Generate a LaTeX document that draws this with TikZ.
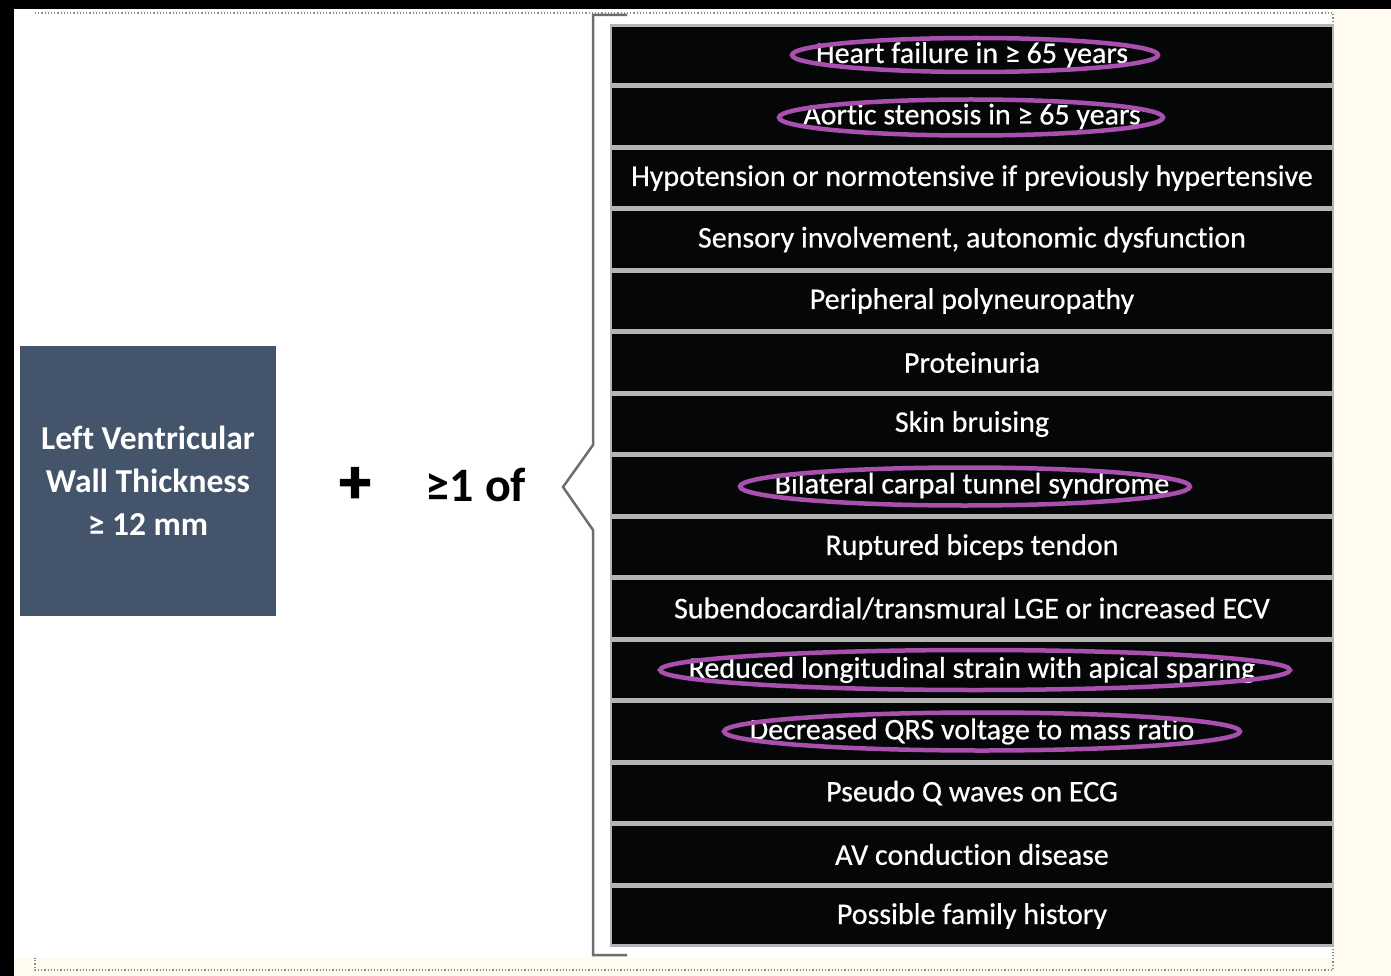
\documentclass[tikz,border=0pt]{standalone}
\usepackage{fontspec}
\setmainfont{Carlito}[Ligatures=NoCommon, BoldFont=Carlito Bold]
\newfontfamily\rowfont{Carlito}[Ligatures=NoCommon, FakeBold=0.5]
\newfontfamily\heavyfont{Carlito Bold}[Ligatures=NoCommon]
\newfontfamily\plusfont{Carlito Bold}[FakeBold=3]
\usepackage{xcolor}
\usetikzlibrary{calc}
\definecolor{slate}{HTML}{44546A}
\definecolor{cream}{HTML}{FFFBEE}
\definecolor{rowbg}{HTML}{050608}
\definecolor{rule}{HTML}{B4B4B4}
\definecolor{brace}{HTML}{6E6E6E}
\definecolor{hilite}{HTML}{A94FAE}
\tikzset{
  row/.style={fill=rowbg, draw=rule, line width=2.5pt, minimum width=722pt, minimum height=59pt,
    inner sep=0pt, text=white, font=\rowfont\fontsize{30}{34}\selectfont},
  lvbox/.style={fill=slate, minimum width=256pt, minimum height=270pt, inner sep=0pt, text=white,
    align=center, font=\heavyfont\fontsize{33.5}{43}\selectfont},
  big/.style={text=black, font=\heavyfont\fontsize{48}{52}\selectfont},
  circ/.style={draw=hilite, line width=4.5pt},
  frame/.style={draw=black!45, dotted, line width=1.2pt},
  bracket/.style={draw=brace, line width=2.5pt, line join=miter},
}

\begin{document}
\begin{tikzpicture}[x=1pt, y=-1pt]
  \useasboundingbox (0,0) rectangle (1391,976);
  % page background
  \fill[cream] (0,0) rectangle (1391,976);
  \fill[white] (14,9) rectangle (1333,958);
  \fill[black] (0,0) rectangle (1391,9);
  \fill[black] (0,0) rectangle (14,976);
  \draw[frame] (35,13) -- (1333,13) -- (1333,970) -- (35,970) -- (35,958);

  % left side
  \node[lvbox] (lv) at (148,481) {Left Ventricular\\Wall Thickness\\≥ 12 mm};
  \node[big, font=\plusfont\fontsize{62}{66}\selectfont] (plus) at (355,485) {+};
  \node[big] (oneof) at (476,485) {≥1 of};

  % criteria list
  \foreach \t [count=\i] in {Heart failure in ≥ 65 years, Aortic stenosis in ≥ 65 years,
      Hypotension or normotensive if previously hypertensive,
      {Sensory involvement, autonomic dysfunction}, Peripheral polyneuropathy,
      Proteinuria, Skin bruising, Bilateral carpal tunnel syndrome,
      Ruptured biceps tendon, Subendocardial/transmural LGE or increased ECV,
      Reduced longitudinal strain with apical sparing,
      Decreased QRS voltage to mass ratio, Pseudo Q waves on ECG,
      AV conduction disease, Possible family history}
    \node[row] (r\i) at (972,{55+61.5*(\i-1)}) {\t};

  % brace
  \coordinate (btop) at (627,15);
  \coordinate (bbot) at (627,955);
  \coordinate (tip) at (563,487);
  \draw[bracket] (btop) -- (593,15) -- (593,445) -- (tip) -- (593,530) -- (593,955) -- (bbot);

  % highlighted items
  \draw[circ] ($(r1.center)+(3,0)$) ellipse (183 and 17);
  \draw[circ] ($(r2.center)+(-1,1)$) ellipse (192 and 18);
  \draw[circ] ($(r8.center)+(-7,1)$) ellipse (225 and 19);
  \draw[circ] ($(r11.center)+(3,0)$) ellipse (315 and 20);
  \draw[circ] ($(r12.center)+(10,0)$) ellipse (258 and 19);
\end{tikzpicture}
\end{document}
